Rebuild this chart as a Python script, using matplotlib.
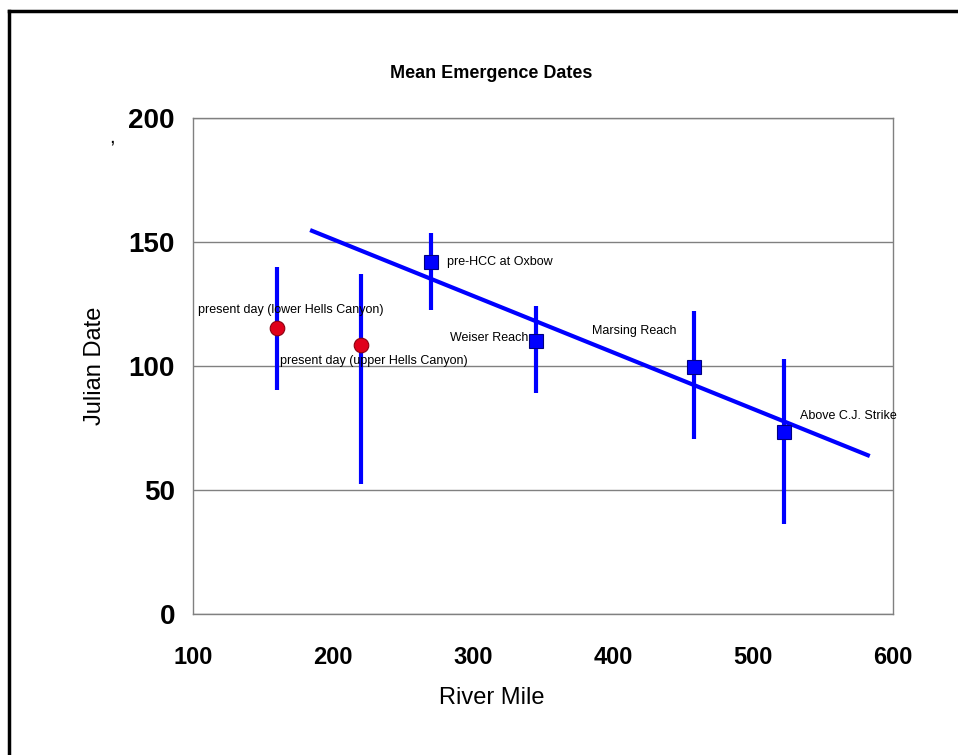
import matplotlib.pyplot as plt
from matplotlib.lines import Line2D

plt.rcParams['font.family'] = ['Liberation Sans', 'DejaVu Sans']

# present day sites (red circles)
present_mile = [160, 220]
present_date = [115.5, 108.5]
present_low = [90.3, 52.5]
present_high = [140, 137]
present_names = ["present day (lower Hells Canyon)", "present day (upper Hells Canyon)"]

# historic sites (blue squares)
site_mile = [270, 345, 458, 522]
site_date = [142, 110, 99.6, 73.5]
site_low = [122.5, 89, 70.6, 36.3]
site_high = [153.5, 124, 122, 103]
site_names = ["pre-HCC at Oxbow", "Weiser Reach", "Marsing Reach", "Above C.J. Strike"]

# trend line
trend_mile = [185, 582]
trend_date = [154.5, 64]

fig = plt.figure(figsize=(9.58, 7.55), dpi=100)
ax = fig.add_axes([0.2015, 0.1868, 0.7307, 0.6569])

ax.plot(trend_mile, trend_date, color="#0000ff", lw=3, zorder=2)

yerr_p = [[d - lo for d, lo in zip(present_date, present_low)],
          [hi - d for d, hi in zip(present_date, present_high)]]
ax.errorbar(present_mile, present_date, yerr=yerr_p, fmt="o", color="#0000ff", ecolor="#0000ff",
            elinewidth=3, capsize=0, markersize=10.5, markerfacecolor="#e0001b",
            markeredgecolor="#8a0010", markeredgewidth=0.8, zorder=3)

yerr_s = [[d - lo for d, lo in zip(site_date, site_low)],
          [hi - d for d, hi in zip(site_date, site_high)]]
ax.errorbar(site_mile, site_date, yerr=yerr_s, fmt="s", color="#0000ff", ecolor="#0000ff",
            elinewidth=3, capsize=0, markersize=10, markerfacecolor="#0000ff",
            markeredgecolor="#000080", markeredgewidth=0.8, zorder=3)

# labels
ax.text(103.6, 122.6, present_names[0], fontsize=9, va="center", ha="left")
ax.text(162, 102, present_names[1], fontsize=9, va="center", ha="left")
ax.text(281.4, 142, site_names[0], fontsize=9, va="center", ha="left")
ax.text(339.3, 111.3, site_names[1], fontsize=9, va="center", ha="right")
ax.text(385, 114, site_names[2], fontsize=9, va="center", ha="left")
ax.text(533.6, 80, site_names[3], fontsize=9, va="center", ha="left")

ax.set_xlim(100, 600)
ax.set_ylim(0, 200)
ax.set_xticks([100, 200, 300, 400, 500, 600])
ax.set_yticks([0, 50, 100, 150, 200])
ax.tick_params(axis="x", length=0, pad=23, labelsize=17)
ax.tick_params(axis="y", length=0, pad=13, labelsize=20)
for lbl in ax.get_xticklabels() + ax.get_yticklabels():
    lbl.set_fontweight("bold")

ax.grid(axis="y", color="#808080", lw=1)
ax.set_axisbelow(True)
for s in ax.spines.values():
    s.set_color("#808080")
    s.set_linewidth(1)

fig.text(0.513, 0.903, "Mean Emergence Dates", ha="center", va="center", fontsize=13, fontweight="bold")
fig.text(0.513, 0.075, "River Mile", ha="center", va="center", fontsize=17)
fig.text(0.099, 0.515, "Julian Date", ha="center", va="center", fontsize=17, rotation=90)
fig.text(0.117, 0.818, ",", ha="center", va="center", fontsize=15)

# frame lines at top and left
fig.add_artist(Line2D([0.0094, 1.0], [0.9854, 0.9854], color="black", lw=2.5))
fig.add_artist(Line2D([0.0094, 0.0094], [0.0, 0.9854], color="black", lw=2.5))

plt.savefig("out.png", dpi=100)
